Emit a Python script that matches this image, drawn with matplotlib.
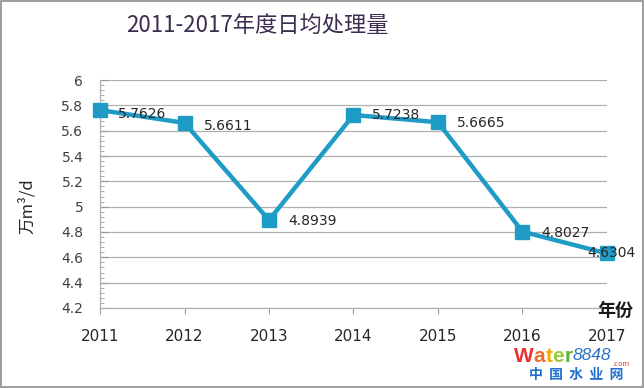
import matplotlib
matplotlib.use("Agg")
import matplotlib.pyplot as plt
from matplotlib.patches import Rectangle

plt.rcParams["font.family"] = ["DejaVu Sans", "Noto Sans CJK SC"]

# data
years = ["2011", "2012", "2013", "2014", "2015", "2016", "2017"]
daily_volume = [5.7626, 5.6611, 4.8939, 5.7238, 5.6665, 4.8027, 4.6304]
value_labels = ["5.7626", "5.6611", "4.8939", "5.7238", "5.6665", "4.8027", "4.6304"]
y_ticks = [4.2, 4.4, 4.6, 4.8, 5.0, 5.2, 5.4, 5.6, 5.8, 6.0]
y_ticklabels = ["4.2", "4.4", "4.6", "4.8", "5", "5.2", "5.4", "5.6", "5.8", "6"]

LINE = "#1f9cc6"
GRID = "#b0b0b0"
TXT = "#404040"
CJK = ["Noto Sans CJK SC", "DejaVu Sans"]

fig = plt.figure(figsize=(6.44, 3.88), dpi=100)
fig.patches.append(Rectangle((0.001, 0.002), 0.997, 0.995, transform=fig.transFigure,
                             fill=False, edgecolor="#8c8c8c", linewidth=1.2))

ax = fig.add_axes([0.1553, 0.2062, 0.7872, 0.5876])
x = list(range(len(years)))
ax.plot(x, daily_volume, color=LINE, linewidth=3.2, marker="s", markersize=9.5,
        markerfacecolor=LINE, markeredgecolor=LINE, clip_on=False, zorder=3)

ax.set_xlim(0, len(years) - 1)
ax.set_ylim(4.2, 6.0)
ax.set_yticks(y_ticks)
ax.set_yticklabels(y_ticklabels)
ax.set_yticks([4.2 + i * 0.04 for i in range(46)], minor=True)
ax.set_xticks(x)
ax.set_xticklabels(years)

ax.grid(axis="y", color=GRID, linewidth=0.9)
ax.set_axisbelow(True)
for side in ("top", "right"):
    ax.spines[side].set_visible(False)
for side in ("left", "bottom"):
    ax.spines[side].set_color(GRID)
    ax.spines[side].set_linewidth(0.9)

ax.tick_params(axis="y", which="major", direction="in", length=6, color="#999999",
               labelsize=10, labelcolor=TXT, pad=12)
ax.tick_params(axis="y", which="minor", direction="in", length=3, color="#999999")
ax.tick_params(axis="x", which="major", direction="out", length=4, color="#999999",
               labelsize=11, labelcolor="#262626", pad=11)

# data labels (Excel placement, last one nudged onto the marker)
offsets = [(18, -4), (19, -3), (19, -1), (18, 0), (19, -1), (19, -1), (-20, 0)]
for xi, yi, lab, off in zip(x, daily_volume, value_labels, offsets):
    ax.annotate(lab, (xi, yi), xytext=off, textcoords="offset pixels",
                ha="left", va="center", fontsize=10, color="#262626", zorder=4)

fig.text(0.40, 0.935, "2011-2017年度日均处理量", ha="center", va="center",
         fontsize=16, color="#3b2d4f", family=CJK)
fig.text(0.042, 0.47, "万m³/d", ha="center", va="center", rotation=90,
         fontsize=12, color="#262626", family=CJK)
fig.text(0.955, 0.20, "年份", ha="center", va="center", fontsize=13,
         fontweight="bold", color="#1a1a1a", family=CJK)

# watermark, letters chained left to right
renderer = fig.canvas.get_renderer()
wm_letters = ["W", "a", "t", "e", "r"]
wm_colors = ["#e8322b", "#ee6a2a", "#f5a800", "#9cc93b", "#5bb531"]
xpos = 514 / 644
for ch, col in zip(wm_letters, wm_colors):
    t = fig.text(xpos, 0.082, ch, fontsize=15, fontweight="bold", color=col,
                 family="Liberation Sans", ha="left", va="center")
    xpos = t.get_window_extent(renderer).x1 / fig.bbox.width
t = fig.text(xpos, 0.084, "8848", fontsize=12.5, style="italic", color="#2a6fc9",
             family="Liberation Sans", ha="left", va="center")
xpos = t.get_window_extent(renderer).x1 / fig.bbox.width
fig.text(xpos + 0.002, 0.062, ".com", fontsize=5, color="#e03a2f", ha="left", va="center")
fig.text(0.895, 0.034, "中  国  水  业  网", fontsize=10, fontweight="bold", color="#1f6fd0",
         ha="center", va="center", family=CJK)

fig.savefig("out.png", dpi=100)
